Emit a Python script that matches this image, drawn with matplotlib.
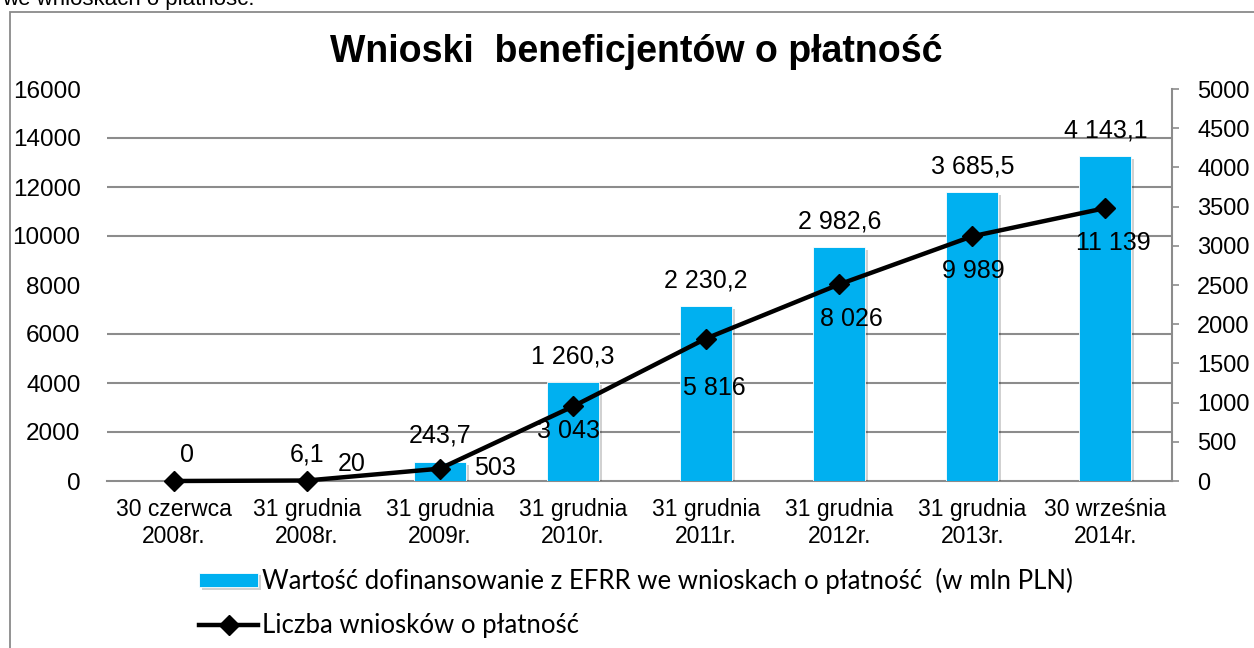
import numpy as np
import matplotlib
matplotlib.use("Agg")
import matplotlib.pyplot as plt
from matplotlib.ticker import FixedLocator
from matplotlib.patches import Rectangle
import matplotlib.patheffects as pe

# ---- data ----
categories = ["30 czerwca\n2008r.", "31 grudnia\n2008r.", "31 grudnia\n2009r.",
              "31 grudnia\n2010r.", "31 grudnia\n2011r.", "31 grudnia\n2012r.",
              "31 grudnia\n2013r.", "30 września\n2014r."]
efrr_values = [0, 6.1, 243.7, 1260.3, 2230.2, 2982.6, 3685.5, 4143.1]   # mln PLN (right axis)
applications = [0, 20, 503, 3043, 5816, 8026, 9989, 11139]             # count (left axis)
left_ticks = list(range(0, 16001, 2000))
right_ticks = list(range(0, 5001, 500))

bar_label = "Wartość dofinansowanie z EFRR we wnioskach o płatność  (w mln PLN)"
line_label = "Liczba wniosków o płatność"
title = "Wnioski  beneficjentów o płatność"
above_text = "we wnioskach o płatność."

# label offsets in pixels (dx, dy) - styling only
bar_label_dx = [13, 0, 0, 0, 0, 0, 0, 0]
line_label_off = [None, (45, 17), (55, 1), (-4, -25), (8, -49), (12, -35), (1, -35), (8, -35)]

W, H = 1254, 648
BLUE = "#00B0F0"
GRID = "#8c8c8c"
FONT = "Liberation Sans"

def fmt_bar(v):
    if v == 0:
        return "0"
    return f"{v:,.1f}".replace(",", " ").replace(".", ",")

def fmt_line(v):
    return f"{v:,d}".replace(",", " ")

plt.rcParams["font.family"] = [FONT, "DejaVu Sans"]

fig = plt.figure(figsize=(W / 100, H / 100), dpi=100)

# outer border (open to the right and bottom) and clipped caption text
fig.patches.append(Rectangle((10 / W, -0.5), 2.0, 1.5 - 12 / H, transform=fig.transFigure,
                             fill=False, edgecolor="#8a8a8a", lw=1.3))
fig.text(2 / W, 1 - 5 / H, above_text, ha="left", va="baseline", fontsize=16)

ax_bar = fig.add_axes([107 / W, 1 - 481 / H, (1172 - 107) / W, (481 - 89) / H])
ax_line = ax_bar.twinx()
ax_line.set_zorder(ax_bar.get_zorder() + 1)
ax_line.patch.set_visible(False)

x = np.arange(len(categories))

bars = ax_bar.bar(x, efrr_values, width=0.39, color=BLUE, edgecolor="white", linewidth=0.6, zorder=3)
for b in bars:
    b.set_path_effects([pe.SimplePatchShadow(offset=(2, -2), shadow_rgbFace="black", alpha=0.18),
                        pe.Normal()])

ax_bar.set_xlim(-0.5, len(categories) - 0.5)
ax_bar.set_ylim(0, right_ticks[-1])
ax_bar.yaxis.tick_right()
ax_bar.set_yticks(right_ticks)
ax_bar.yaxis.set_minor_locator(FixedLocator(np.array(left_ticks) * right_ticks[-1] / left_ticks[-1]))
ax_bar.grid(which="minor", axis="y", color=GRID, lw=1.5, zorder=0)
ax_bar.set_axisbelow(True)
ax_bar.tick_params(axis="y", which="major", direction="out", length=5, width=1.2, color=GRID,
                   pad=13, labelsize=17)
ax_bar.tick_params(axis="y", which="minor", length=0)
ax_bar.set_xticks(x)
ax_bar.set_xticklabels(categories, fontsize=16.5, linespacing=1.25)
ax_bar.tick_params(axis="x", length=0, pad=12)
for s in ["top", "left"]:
    ax_bar.spines[s].set_visible(False)
ax_bar.spines["right"].set_color(GRID)
ax_bar.spines["right"].set_linewidth(1.5)
ax_bar.spines["bottom"].set_color(GRID)
ax_bar.spines["bottom"].set_linewidth(1.5)

line, = ax_line.plot(x, applications, color="black", lw=3.2, marker="D", ms=10,
                     clip_on=False, zorder=5)
ax_line.set_ylim(0, left_ticks[-1])
ax_line.yaxis.tick_left()
ax_line.set_yticks(left_ticks)
ax_line.tick_params(axis="y", length=0, pad=19, labelsize=17.5)
for s in ax_line.spines.values():
    s.set_visible(False)

# data labels
for i, v in enumerate(efrr_values):
    ax_bar.annotate(fmt_bar(v), xy=(x[i], v), xytext=(bar_label_dx[i], 26),
                    textcoords="offset pixels", ha="center", va="center", fontsize=18, zorder=6)
for i, v in enumerate(applications):
    off = line_label_off[i]
    if off is None:
        continue
    ax_line.annotate(fmt_line(v), xy=(x[i], v), xytext=off,
                     textcoords="offset pixels", ha="center", va="center", fontsize=18, zorder=6)

fig.text(636 / W, 1 - 52 / H, title, ha="center", va="center", fontsize=27, weight="bold")

leg = fig.legend([bars, line], [bar_label, line_label], loc="upper left",
                 bbox_to_anchor=(199 / W, 1 - 568 / H), frameon=False,
                 prop={"family": ["Lato", "DejaVu Sans"], "size": 18.5},
                 handlelength=2.3, handleheight=0.5, handletextpad=0.15,
                 labelspacing=0.75, borderpad=0, borderaxespad=0)

fig.savefig("out.png", dpi=100)
